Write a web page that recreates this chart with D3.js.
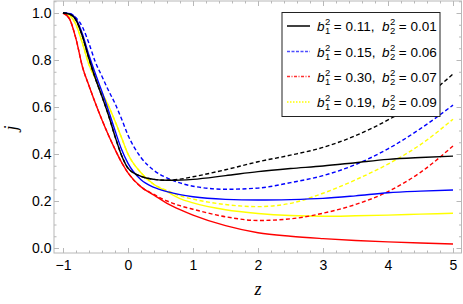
<!DOCTYPE html>
<html>
<head>
<meta charset="utf-8">
<script src="https://cdn.jsdelivr.net/npm/d3@7"></script>
<style>
  body { margin: 0; background: #fff; }
  svg { display: block; font-family: "Liberation Sans", Arial, sans-serif; }
</style>
</head>
<body>
<svg id="chart" width="463" height="304"></svg>
<script>
// redshift samples shared by every curve
var zs = [-1, -0.9, -0.8, -0.7, -0.6, -0.5, -0.4, -0.3, -0.2, -0.1, 0, 0.2, 0.4, 0.6, 0.8, 1, 1.5, 2, 2.5, 3, 3.5, 4, 4.5, 5];

var blackSolid  = [1.0, 0.995, 0.97, 0.9, 0.805, 0.72, 0.645, 0.565, 0.475, 0.395, 0.34, 0.305, 0.292, 0.288, 0.289, 0.292, 0.308, 0.325, 0.338, 0.349, 0.363, 0.377, 0.385, 0.391];
var blackDashed = [1.0, 0.995, 0.97, 0.9, 0.805, 0.72, 0.645, 0.565, 0.475, 0.395, 0.34, 0.305, 0.292, 0.288, 0.293, 0.303, 0.333, 0.367, 0.395, 0.428, 0.478, 0.545, 0.628, 0.74];
var blueSolid   = [1.0, 0.997, 0.975, 0.91, 0.82, 0.74, 0.665, 0.585, 0.5, 0.42, 0.36, 0.29, 0.258, 0.24, 0.227, 0.218, 0.207, 0.204, 0.206, 0.211, 0.222, 0.235, 0.242, 0.247];
var blueDashed  = [1.0, 0.998, 0.98, 0.94, 0.87, 0.79, 0.73, 0.67, 0.615, 0.55, 0.48, 0.385, 0.33, 0.298, 0.277, 0.263, 0.25, 0.255, 0.278, 0.308, 0.355, 0.422, 0.508, 0.608];
var redSolid    = [1.0, 0.975, 0.89, 0.77, 0.69, 0.615, 0.545, 0.48, 0.42, 0.365, 0.32, 0.26, 0.225, 0.19, 0.163, 0.14, 0.095, 0.065, 0.05, 0.04, 0.032, 0.026, 0.021, 0.017];
var redDashed   = [1.0, 0.975, 0.89, 0.77, 0.69, 0.615, 0.545, 0.48, 0.42, 0.365, 0.32, 0.26, 0.228, 0.2, 0.18, 0.165, 0.133, 0.117, 0.124, 0.148, 0.185, 0.24, 0.322, 0.434];
var yellowSolid = [1.0, 0.99, 0.95, 0.87, 0.78, 0.72, 0.66, 0.605, 0.54, 0.47, 0.4, 0.32, 0.27, 0.24, 0.21, 0.192, 0.163, 0.147, 0.138, 0.135, 0.137, 0.14, 0.144, 0.148];
var yellowDashed= [1.0, 0.99, 0.95, 0.87, 0.78, 0.72, 0.66, 0.605, 0.54, 0.47, 0.4, 0.32, 0.27, 0.245, 0.222, 0.208, 0.185, 0.176, 0.19, 0.233, 0.29, 0.357, 0.44, 0.548];

var xTicks = [-1, 0, 1, 2, 3, 4, 5];
var yTicks = [0, 0.2, 0.4, 0.6, 0.8, 1.0];

var legendB1 = ['0.11', '0.15', '0.30', '0.19'];
var legendB2 = ['0.01', '0.06', '0.07', '0.09'];

var series = [
  { vals: yellowSolid,  color: '#ffff00', dash: null },
  { vals: yellowDashed, color: '#ffff00', dash: '4,2.5' },
  { vals: redSolid,     color: '#ff0000', dash: null },
  { vals: redDashed,    color: '#ff0000', dash: '4,2.5' },
  { vals: blueSolid,    color: '#0000ff', dash: null },
  { vals: blueDashed,   color: '#0000ff', dash: '4,2.5' },
  { vals: blackSolid,   color: '#000000', dash: null },
  { vals: blackDashed,  color: '#000000', dash: '4,2.5' }
];

var legendStyles = [
  { color: '#000000', dash: null },
  { color: '#4d4dff', dash: '3,1.5' },
  { color: '#ff3030', dash: '3,1.5,1,1.5' },
  { color: '#ffff00', dash: '1.5,1.5' }
];

var frame = { left: 54, right: 461.5, top: 1, bottom: 253 };

var x = d3.scaleLinear().domain([-1, 5]).range([63, 453]);
var y = d3.scaleLinear().domain([0, 1]).range([248, 13]);

var svg = d3.select('#chart');

svg.append('clipPath').attr('id', 'clip')
  .append('rect')
    .attr('x', frame.left).attr('y', frame.top)
    .attr('width', frame.right - frame.left).attr('height', frame.bottom - frame.top);

// minor + major ticks on all four sides of the frame
var minorX = d3.range(-1.2, 5.21, 0.2).map(function(d) { return Math.round(d * 10) / 10; })
  .filter(function(d) { return xTicks.indexOf(d) < 0 && x(d) > frame.left && x(d) < frame.right; });
var minorY = d3.range(-0.05, 1.06, 0.05).map(function(d) { return Math.round(d * 100) / 100; })
  .filter(function(d) { return Math.abs(d * 5 - Math.round(d * 5)) > 1e-6 && y(d) > frame.top && y(d) < frame.bottom; });

var tickColor = '#b8b8b8';

function addAxis(gen, transform, labels) {
  var g = svg.append('g').attr('transform', transform).call(gen);
  g.select('.domain').remove();
  g.selectAll('line').attr('stroke', tickColor);
  if (labels) {
    g.selectAll('text').attr('fill', '#000').style('font-size', '14px');
  } else {
    g.selectAll('text').remove();
  }
}

var atBottom = 'translate(0,' + frame.bottom + ')',
    atTop = 'translate(0,' + frame.top + ')',
    atLeft = 'translate(' + frame.left + ',0)',
    atRight = 'translate(' + frame.right + ',0)';

addAxis(d3.axisBottom(x).tickValues(minorX).tickSize(-2.5), atBottom, false);
addAxis(d3.axisBottom(x).tickValues(xTicks).tickSize(-5).tickPadding(7).tickFormat(d3.format('d')), atBottom, true);
addAxis(d3.axisTop(x).tickValues(minorX).tickSize(-2.5), atTop, false);
addAxis(d3.axisTop(x).tickValues(xTicks).tickSize(-5), atTop, false);

addAxis(d3.axisLeft(y).tickValues(minorY).tickSize(-2.5), atLeft, false);
addAxis(d3.axisLeft(y).tickValues(yTicks).tickSize(-5).tickPadding(2.5).tickFormat(d3.format('.1f')), atLeft, true);
addAxis(d3.axisRight(y).tickValues(minorY).tickSize(-2.5), atRight, false);
addAxis(d3.axisRight(y).tickValues(yTicks).tickSize(-5), atRight, false);

svg.append('rect')
  .attr('x', frame.left).attr('y', frame.top)
  .attr('width', frame.right - frame.left).attr('height', frame.bottom - frame.top)
  .attr('fill', 'none').attr('stroke', tickColor).attr('stroke-width', 1);

// curves
var line = d3.line()
  .x(function(d, i) { return x(zs[i]); })
  .y(function(d) { return y(d); })
  .curve(d3.curveMonotoneX);

svg.append('g').attr('clip-path', 'url(#clip)')
  .selectAll('path')
  .data(series).enter()
  .append('path')
    .attr('d', function(d) { return line(d.vals); })
    .attr('fill', 'none')
    .attr('stroke', function(d) { return d.color; })
    .attr('stroke-width', 1.4)
    .attr('stroke-dasharray', function(d) { return d.dash; });

// axis labels
svg.append('text')
  .attr('x', 258).attr('y', 295)
  .attr('text-anchor', 'middle')
  .style('font-family', '"Liberation Serif", "Times New Roman", serif')
  .style('font-style', 'italic')
  .style('font-size', '18px')
  .text('z');

svg.append('text')
  .attr('transform', 'translate(17,128) rotate(-90)')
  .attr('text-anchor', 'middle')
  .style('font-family', '"Liberation Serif", "Times New Roman", serif')
  .style('font-style', 'italic')
  .style('font-size', '18px')
  .text('j');

// legend
var legend = svg.append('g');
legend.append('rect')
  .attr('x', 282).attr('y', 12.5)
  .attr('width', 158).attr('height', 104)
  .attr('fill', '#fff').attr('stroke', '#222').attr('stroke-width', 1);

var rowY = [26, 51.5, 76.5, 102];

// b with stacked sub/superscript, all in one text element
function bTerm(x0, cy, sub, val, tail) {
  var t = legend.append('text').attr('x', x0).attr('y', cy + 5).style('font-size', '13.5px');
  t.append('tspan').style('font-style', 'italic').text('b');
  t.append('tspan').attr('dx', 0.5).attr('dy', -6).style('font-size', '9.5px').text('2');
  t.append('tspan').attr('dx', -5.3).attr('dy', 9).style('font-size', '9.5px').text(sub);
  t.append('tspan').attr('dx', 3.5).attr('dy', -3).text('= ' + val + tail);
}

legendStyles.forEach(function(s, i) {
  var cy = rowY[i];
  legend.append('line')
    .attr('x1', 287).attr('x2', 310).attr('y1', cy).attr('y2', cy)
    .attr('stroke', s.color).attr('stroke-width', 1.5)
    .attr('stroke-dasharray', s.dash);
  bTerm(317, cy, '1', legendB1[i], ',');
  bTerm(382, cy, '2', legendB2[i], '');
});
</script>
</body>
</html>
